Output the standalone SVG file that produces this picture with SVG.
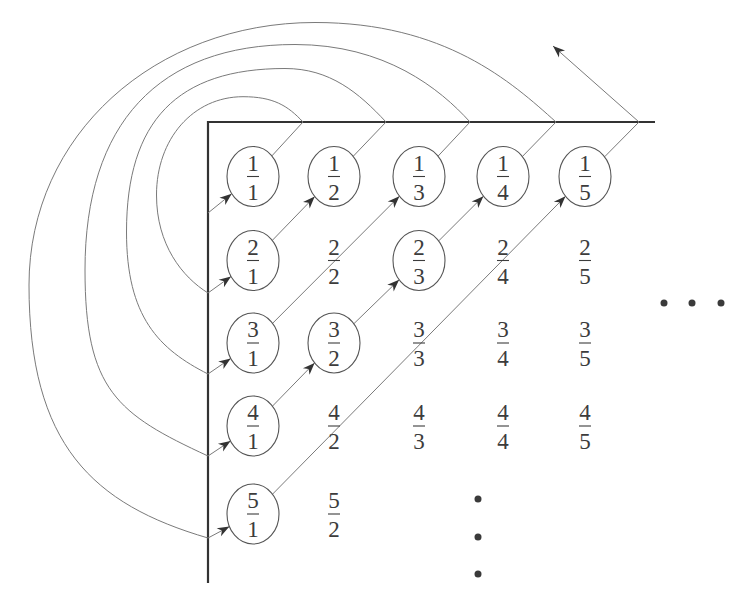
<svg xmlns="http://www.w3.org/2000/svg" width="752" height="594" viewBox="0 0 752 594">
<style>
.ax{stroke:#333;stroke-width:2.2;fill:none}
.ln{stroke:#7a7a7a;stroke-width:1;fill:none}
.nd{fill:none;stroke:#555;stroke-width:1.1}
.fr{font-family:"Liberation Serif",serif;font-size:23px;fill:#3c3c3c;text-anchor:middle}
.bar{stroke:#3c3c3c;stroke-width:1.1}
.dot{fill:#3a3a3a}
</style>
<defs>
<marker id="ah" viewBox="-13 -6 14 12" refX="0" refY="0" markerWidth="14" markerHeight="12" markerUnits="userSpaceOnUse" orient="auto">
<path d="M0,0 L-12,-4.6 L-8.5,0 L-12,4.6 Z" fill="#333"/>
</marker>
</defs>
<rect width="752" height="594" fill="#fff"/>
<g id="axes">
<line class="ax" x1="208" y1="122" x2="655" y2="122"/>
<line class="ax" x1="208" y1="121" x2="208" y2="583"/>
</g>
<g id="connectors">
<line class="ln" x1="208" y1="213" x2="231.7" y2="193.8" marker-end="url(#ah)"/>
<line class="ln" x1="208" y1="293" x2="231" y2="276.4" marker-end="url(#ah)"/>
<line class="ln" x1="208" y1="374" x2="230.7" y2="358.4" marker-end="url(#ah)"/>
<line class="ln" x1="208" y1="456" x2="230.5" y2="441" marker-end="url(#ah)"/>
<line class="ln" x1="208" y1="538" x2="229.4" y2="526.6" marker-end="url(#ah)"/>
<line class="ln" x1="272.3" y1="240.4" x2="314.7" y2="196.6" marker-end="url(#ah)"/>
<line class="ln" x1="272.6" y1="323.3" x2="399.4" y2="196.2" marker-end="url(#ah)"/>
<line class="ln" x1="272.5" y1="406.1" x2="314.6" y2="362.9" marker-end="url(#ah)"/>
<line class="ln" x1="353.9" y1="323.7" x2="399.1" y2="279.8" marker-end="url(#ah)"/>
<line class="ln" x1="438.7" y1="240.9" x2="483.4" y2="196.2" marker-end="url(#ah)"/>
<line class="ln" x1="272.5" y1="494.2" x2="565.5" y2="196.3" marker-end="url(#ah)"/>
<line class="ln" x1="271.9" y1="155.9" x2="303" y2="122"/>
<line class="ln" x1="353.2" y1="156.3" x2="386" y2="122"/>
<line class="ln" x1="438.1" y1="156.1" x2="470" y2="122"/>
<line class="ln" x1="522.4" y1="156.5" x2="556" y2="122"/>
<line class="ln" x1="604.6" y1="156.8" x2="639" y2="122"/>
<path class="ln" d="M303,122 C287.6,105.4 273,96.7 243,96.7 C193,96.7 156.5,139 156.5,195 C156.5,245 182.5,277.1 208,293"/>
<path class="ln" d="M386,122 C358.8,92.8 330,68.5 285,68.5 C177.2,68.5 126.5,120.8 126.5,232 C126.5,317 159,349.25 208,374"/>
<path class="ln" d="M470,122 C439.9,88.7 385,44.5 295,44.5 C158.5,44.5 85,123.4 85,270 C85,390 117,414 208,456"/>
<path class="ln" d="M556,122 C511.4,81.9 445,22.5 315,22.5 C155,22.5 29,135 29,285 C29,445 92.8,504.4 208,538"/>
<line class="ln" x1="639" y1="122" x2="553" y2="46" marker-end="url(#ah)"/>
</g>
<g id="n-1-1" transform="translate(253,176.5)"><ellipse class="nd" rx="26" ry="30"/><text class="fr" y="-6">1</text><line class="bar" x1="-6" x2="6"/><text class="fr" y="23">1</text></g>
<g id="n-1-2" transform="translate(334,176.5)"><ellipse class="nd" rx="26" ry="30"/><text class="fr" y="-6">1</text><line class="bar" x1="-6" x2="6"/><text class="fr" y="23">2</text></g>
<g id="n-1-3" transform="translate(419,176.5)"><ellipse class="nd" rx="26" ry="30"/><text class="fr" y="-6">1</text><line class="bar" x1="-6" x2="6"/><text class="fr" y="23">3</text></g>
<g id="n-1-4" transform="translate(503,176.5)"><ellipse class="nd" rx="26" ry="30"/><text class="fr" y="-6">1</text><line class="bar" x1="-6" x2="6"/><text class="fr" y="23">4</text></g>
<g id="n-1-5" transform="translate(585,176.5)"><ellipse class="nd" rx="26" ry="30"/><text class="fr" y="-6">1</text><line class="bar" x1="-6" x2="6"/><text class="fr" y="23">5</text></g>
<g id="n-2-1" transform="translate(253,260.5)"><ellipse class="nd" rx="26" ry="30"/><text class="fr" y="-6">2</text><line class="bar" x1="-6" x2="6"/><text class="fr" y="23">1</text></g>
<g id="n-2-2" transform="translate(334,260.5)"><text class="fr" y="-6">2</text><line class="bar" x1="-6" x2="6"/><text class="fr" y="23">2</text></g>
<g id="n-2-3" transform="translate(419,260.5)"><ellipse class="nd" rx="26" ry="30"/><text class="fr" y="-6">2</text><line class="bar" x1="-6" x2="6"/><text class="fr" y="23">3</text></g>
<g id="n-2-4" transform="translate(503,260.5)"><text class="fr" y="-6">2</text><line class="bar" x1="-6" x2="6"/><text class="fr" y="23">4</text></g>
<g id="n-2-5" transform="translate(585,260.5)"><text class="fr" y="-6">2</text><line class="bar" x1="-6" x2="6"/><text class="fr" y="23">5</text></g>
<g id="n-3-1" transform="translate(253,343)"><ellipse class="nd" rx="26" ry="30"/><text class="fr" y="-6">3</text><line class="bar" x1="-6" x2="6"/><text class="fr" y="23">1</text></g>
<g id="n-3-2" transform="translate(334,343)"><ellipse class="nd" rx="26" ry="30"/><text class="fr" y="-6">3</text><line class="bar" x1="-6" x2="6"/><text class="fr" y="23">2</text></g>
<g id="n-3-3" transform="translate(419,343)"><text class="fr" y="-6">3</text><line class="bar" x1="-6" x2="6"/><text class="fr" y="23">3</text></g>
<g id="n-3-4" transform="translate(503,343)"><text class="fr" y="-6">3</text><line class="bar" x1="-6" x2="6"/><text class="fr" y="23">4</text></g>
<g id="n-3-5" transform="translate(585,343)"><text class="fr" y="-6">3</text><line class="bar" x1="-6" x2="6"/><text class="fr" y="23">5</text></g>
<g id="n-4-1" transform="translate(253,426)"><ellipse class="nd" rx="26" ry="30"/><text class="fr" y="-6">4</text><line class="bar" x1="-6" x2="6"/><text class="fr" y="23">1</text></g>
<g id="n-4-2" transform="translate(334,426)"><text class="fr" y="-6">4</text><line class="bar" x1="-6" x2="6"/><text class="fr" y="23">2</text></g>
<g id="n-4-3" transform="translate(419,426)"><text class="fr" y="-6">4</text><line class="bar" x1="-6" x2="6"/><text class="fr" y="23">3</text></g>
<g id="n-4-4" transform="translate(503,426)"><text class="fr" y="-6">4</text><line class="bar" x1="-6" x2="6"/><text class="fr" y="23">4</text></g>
<g id="n-4-5" transform="translate(585,426)"><text class="fr" y="-6">4</text><line class="bar" x1="-6" x2="6"/><text class="fr" y="23">5</text></g>
<g id="n-5-1" transform="translate(253,514)"><ellipse class="nd" rx="26" ry="30"/><text class="fr" y="-6">5</text><line class="bar" x1="-6" x2="6"/><text class="fr" y="23">1</text></g>
<g id="n-5-2" transform="translate(334,514)"><text class="fr" y="-6">5</text><line class="bar" x1="-6" x2="6"/><text class="fr" y="23">2</text></g>
<g id="dots">
<circle class="dot" cx="664" cy="303" r="3.5"/>
<circle class="dot" cx="692" cy="303" r="3.5"/>
<circle class="dot" cx="721" cy="303" r="3.5"/>
<circle class="dot" cx="478" cy="499" r="3.5"/>
<circle class="dot" cx="478" cy="537" r="3.5"/>
<circle class="dot" cx="478" cy="574" r="3.5"/>
</g>
</svg>
